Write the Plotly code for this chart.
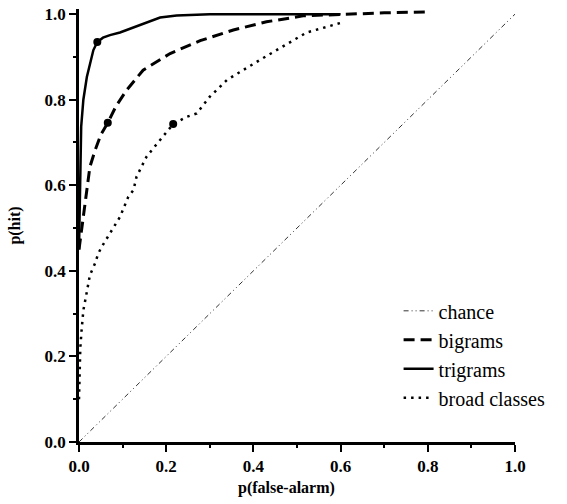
import plotly.graph_objects as go

# ROC curves: p(hit) against p(false-alarm)
chance_x = [0.0, 1.0]
chance_y = [0.0, 1.0]

bigram_x = [0.0, 0.002, 0.008, 0.014, 0.021, 0.025, 0.037, 0.050, 0.066, 0.085, 0.109,
            0.147, 0.209, 0.278, 0.354, 0.430, 0.514, 0.600, 0.700, 0.795]
bigram_y = [0.45, 0.465, 0.519, 0.567, 0.615, 0.643, 0.682, 0.718, 0.746, 0.785, 0.822,
            0.869, 0.908, 0.938, 0.963, 0.982, 0.996, 1.000, 1.003, 1.005]

trigram_x = [0.0, 0.002, 0.005, 0.010, 0.018, 0.033, 0.042, 0.055, 0.071, 0.094, 0.140,
             0.186, 0.224, 0.300, 0.400, 0.500, 0.600]
trigram_y = [0.45, 0.62, 0.737, 0.800, 0.853, 0.916, 0.935, 0.945, 0.951, 0.957, 0.974,
             0.992, 0.997, 1.000, 1.000, 1.000, 1.000]

broad_x = [0.0, 0.001, 0.003, 0.006, 0.010, 0.018, 0.025, 0.037, 0.044, 0.052, 0.071,
           0.094, 0.113, 0.125, 0.132, 0.155, 0.186, 0.216, 0.247, 0.270, 0.300,
           0.339, 0.415, 0.492, 0.522, 0.602]
broad_y = [0.10, 0.17, 0.22, 0.262, 0.308, 0.351, 0.39, 0.418, 0.440, 0.456, 0.488,
           0.526, 0.573, 0.589, 0.620, 0.667, 0.706, 0.743, 0.760, 0.768, 0.807,
           0.846, 0.893, 0.939, 0.957, 0.980]

# operating points marked on each curve
op_x = [0.042, 0.066, 0.216]
op_y = [0.935, 0.746, 0.743]

serif = "Liberation Serif"

fig = go.Figure()
fig.add_trace(go.Scatter(x=chance_x, y=chance_y, mode="lines", name="chance",
                         line=dict(color="#333333", width=1,
                                   dash="5px,3px,1px,3px,1px,3px")))
fig.add_trace(go.Scatter(x=bigram_x, y=bigram_y, mode="lines", name="bigrams",
                         line=dict(color="black", width=3, dash="11px,6px")))
fig.add_trace(go.Scatter(x=trigram_x, y=trigram_y, mode="lines", name="trigrams",
                         line=dict(color="black", width=2.5)))
fig.add_trace(go.Scatter(x=broad_x, y=broad_y, mode="lines", name="broad classes",
                         line=dict(color="black", width=2.5, dash="2.5px,5px")))
fig.add_trace(go.Scatter(x=op_x, y=op_y, mode="markers", showlegend=False,
                         marker=dict(color="black", size=8)))

axis_common = dict(
    showline=True, linecolor="black", linewidth=2.5,
    ticks="outside", ticklen=7, tickwidth=2, tickcolor="black",
    showgrid=False, zeroline=False, dtick=0.2, tick0=0, tickformat=".1f",
    tickfont=dict(family=serif, size=17, color="black", weight="bold"),
    minor=dict(ticks="outside", ticklen=3, tickwidth=1.5, tickcolor="black",
               dtick=0.1, showgrid=False),
    automargin=False,
)

fig.update_layout(
    width=567, height=504,
    margin=dict(l=79, r=52, t=9, b=62),
    paper_bgcolor="white", plot_bgcolor="white",
    xaxis=dict(range=[0, 1.0], **axis_common),
    yaxis=dict(range=[0, 1.012],
               title=dict(text="p(hit)", standoff=20,
                          font=dict(family=serif, size=16, color="black", weight="bold")),
               **axis_common),
    annotations=[dict(text="p(false-alarm)", xref="paper", yref="paper",
                      x=0.477, y=0, yshift=-46, xanchor="center", yanchor="middle",
                      showarrow=False,
                      font=dict(family=serif, size=16, color="black", weight="bold"))],
    legend=dict(x=0.733, y=0.348, xanchor="left", yanchor="top",
                bgcolor="rgba(0,0,0,0)", borderwidth=0,
                font=dict(family=serif, size=20, color="black"),
                itemwidth=30, tracegroupgap=0),
    showlegend=True,
)

fig.write_html("out.html")
